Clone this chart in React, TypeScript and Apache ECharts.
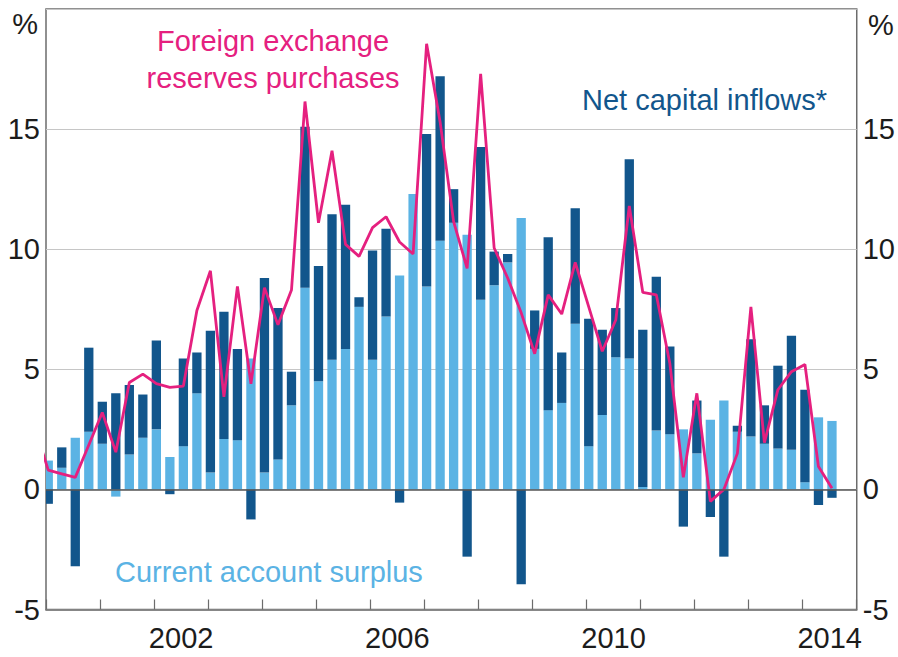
import React, { useEffect, useRef } from 'react';
import * as echarts from 'echarts';

const FONT = '"Liberation Sans", Arial, Helvetica, sans-serif';

const COLOR_CA = '#5bb3e4';
const COLOR_NCI = '#12568c';
const COLOR_FX = '#e5207f';
const COLOR_FRAME = '#6c6c6c';
const COLOR_GRID = '#c6c6c6';
const COLOR_TEXT = '#1c1c1c';

// Calendar years shown on the horizontal axis (one category per year)
const years = ['2000', '2001', '2002', '2003', '2004', '2005', '2006', '2007',
  '2008', '2009', '2010', '2011', '2012', '2013', '2014'];
const labelledYears = ['2002', '2006', '2010', '2014'];

// Quarterly observations, 2000 Q1 – 2014 Q3
const quarters: string[] = [];
for (const y of years) {
  for (let q = 1; q <= 4; q++) {
    if (y === '2014' && q === 4) break;
    quarters.push(`${y} Q${q}`);
  }
}

// Current account surplus, % of GDP
const currentAccount = [
  1.2, 0.9, 2.15, 2.4,
  1.9, -0.3, 1.45, 2.15,
  2.5, 1.35, 1.8, 4.0,
  0.7, 2.1, 2.05, 5.45,
  0.7, 1.25, 3.5, 8.4,
  4.5, 5.4, 5.85, 7.6,
  5.4, 7.2, 8.9, 12.3,
  8.45, 10.35, 11.1, 10.6,
  7.9, 8.5, 9.45, 11.3,
  5.85, 3.3, 3.6, 6.9,
  1.8, 3.1, 5.5, 5.45,
  0.1, 2.45, 2.3, 2.5,
  1.5, 2.9, 3.7, 2.4,
  2.2, 1.9, 1.7, 1.65,
  0.3, 3.0, 2.85,
];

// Net capital inflows, % of GDP
const netCapitalInflows = [
  -0.6, 0.85, -3.2, 3.5,
  1.75, 4.0, 2.9, 1.8,
  3.7, -0.2, 3.65, 1.7,
  5.9, 5.3, 3.8, -1.25,
  8.1, 6.3, 1.4, 6.7,
  4.8, 6.05, 6.0, 0.4,
  4.55, 3.65, -0.55, 0,
  6.35, 6.85, 1.4, -2.8,
  6.35, 1.4, 0.35, -3.95,
  1.6, 7.2, 2.1, 4.8,
  5.3, 3.55, 2.05, 8.3,
  6.55, 6.4, 3.65, -1.55,
  2.2, -1.15, -2.8, 0.25,
  4.05, 1.6, 3.45, 4.75,
  3.85, -0.65, -0.35,
];

// Foreign exchange reserves purchases, % of GDP (series begins 1999 Q4)
const fxQuarters = ['1999 Q4', ...quarters];
const fxPurchases = [
  2.6,
  0.8, 0.65, 0.5, 1.85,
  3.2, 1.55, 4.45, 4.8,
  4.4, 4.25, 4.3, 7.45,
  9.1, 3.85, 8.45, 4.4,
  8.4, 6.85, 8.3, 16.15,
  11.1, 14.1, 10.2, 9.7,
  10.9, 11.35, 10.3, 9.8,
  18.55, 15.3, 11.15, 9.2,
  17.3, 10.05, 8.8, 7.35,
  5.65, 8.1, 7.3, 9.45,
  7.6, 5.75, 7.05, 11.8,
  8.2, 8.1, 5.25, 0.5,
  4.0, -0.5, 0.0, 1.5,
  7.6, 1.95, 4.15, 4.9,
  5.2, 0.95, 0.05,
];

// Monthly slots for the bars: each quarter sits in its first month
const months: string[] = [];
for (const y of years) {
  for (let m = 1; m <= 12; m++) months.push(`${y}-${String(m).padStart(2, '0')}`);
}
const monthKey = (label: string) => {
  const [y, q] = label.split(' Q');
  return `${y}-${String((Number(q) - 1) * 3 + 1).padStart(2, '0')}`;
};
const toMonthly = (values: number[]) => {
  const byMonth = new Map(quarters.map((q, i) => [monthKey(q), values[i]]));
  return months.map((m) => (byMonth.has(m) ? byMonth.get(m)! : null));
};

// Line points on a continuous year scale (mid-point of the quarter's first month)
function quarterPos(label: string): number {
  const [y, q] = label.split(' Q');
  return Number(y) + (Number(q) - 1) / 4 + 1 / 24;
}

export default function App() {
  const ref = useRef<HTMLDivElement>(null);

  useEffect(() => {
    if (!ref.current) return;
    const chart = echarts.init(ref.current, undefined, { renderer: 'svg' });

    const yAxisCommon = {
      type: 'value' as const,
      min: -5,
      max: 20,
      interval: 5,
      axisLine: { show: false },
      axisTick: { show: false },
      axisLabel: {
        fontFamily: FONT,
        fontSize: 29,
        color: COLOR_TEXT,
        margin: 6,
        formatter: (v: number) => (v === 20 ? '' : String(v)),
      },
    };

    const annotation = (
      text: string, x: number, y: number, color: string, align: string,
    ) => ({
      type: 'text',
      x,
      y,
      silent: true,
      style: {
        text,
        fill: color,
        font: `29px ${FONT}`,
        textAlign: align,
        textVerticalAlign: 'middle',
      },
    });

    chart.setOption({
      animation: false,
      backgroundColor: '#ffffff',
      grid: {
        left: 46,
        right: 36,
        top: 9,
        bottom: 47.5,
        show: true,
        borderColor: COLOR_FRAME,
        borderWidth: 1.5,
        backgroundColor: 'transparent',
      },
      xAxis: [
        {
          // monthly slots carrying the stacked bars
          type: 'category',
          data: months,
          boundaryGap: true,
          show: false,
          position: 'bottom',
        },
        {
          // continuous years carrying the line
          type: 'value',
          min: 2000,
          max: 2015,
          show: false,
          position: 'bottom',
          splitLine: { show: false },
        },
        {
          // visible year axis with ticks between years
          type: 'category',
          data: years,
          position: 'bottom',
          boundaryGap: true,
          axisLine: { show: true, lineStyle: { color: COLOR_FRAME, width: 1.5 } },
          axisTick: {
            show: true,
            inside: true,
            length: 10,
            interval: 0,
            lineStyle: { color: COLOR_FRAME, width: 1.2 },
          },
          axisLabel: {
            interval: (_i: number, v: string) => labelledYears.includes(v),
            fontFamily: FONT,
            fontSize: 29,
            color: COLOR_TEXT,
            margin: 14,
          },
          splitLine: { show: false },
        },
      ],
      yAxis: [
        {
          ...yAxisCommon,
          position: 'left',
          splitLine: { show: true, lineStyle: { color: COLOR_GRID, width: 1 } },
        },
        {
          ...yAxisCommon,
          position: 'right',
          splitLine: { show: false },
        },
      ],
      series: [
        {
          name: 'Current account surplus',
          type: 'bar',
          xAxisIndex: 0,
          yAxisIndex: 0,
          stack: 'flows',
          barWidth: 9.3,
          clip: true,
          itemStyle: { color: COLOR_CA },
          data: toMonthly(currentAccount),
        },
        {
          name: 'Net capital inflows*',
          type: 'bar',
          xAxisIndex: 0,
          yAxisIndex: 0,
          stack: 'flows',
          barWidth: 9.3,
          clip: true,
          itemStyle: { color: COLOR_NCI },
          data: toMonthly(netCapitalInflows),
        },
        {
          name: 'Foreign exchange reserves purchases',
          type: 'line',
          xAxisIndex: 1,
          yAxisIndex: 0,
          symbol: 'none',
          clip: true,
          lineStyle: { color: COLOR_FX, width: 2.8 },
          data: fxQuarters.map((q, i) => [quarterPos(q), fxPurchases[i]]),
          markLine: {
            silent: true,
            symbol: ['none', 'none'],
            label: { show: false },
            lineStyle: { color: '#555555', width: 1.5, type: 'solid' },
            data: [{ yAxis: 0 }],
          },
          z: 3,
        },
      ],
      graphic: [
        annotation('%', 38, 24, COLOR_TEXT, 'right'),
        annotation('%', 868, 25, COLOR_TEXT, 'left'),
        annotation('Foreign exchange', 273, 41, COLOR_FX, 'center'),
        annotation('reserves purchases', 273, 78, COLOR_FX, 'center'),
        annotation('Net capital inflows*', 827, 100, COLOR_NCI, 'right'),
        annotation('Current account surplus', 115, 572, COLOR_CA, 'left'),
      ],
    });

    return () => chart.dispose();
  }, []);

  return (
    <div
      ref={ref}
      style={{ position: 'fixed', left: 0, top: 0, width: 898, height: 657, background: '#fff' }}
    />
  );
}
